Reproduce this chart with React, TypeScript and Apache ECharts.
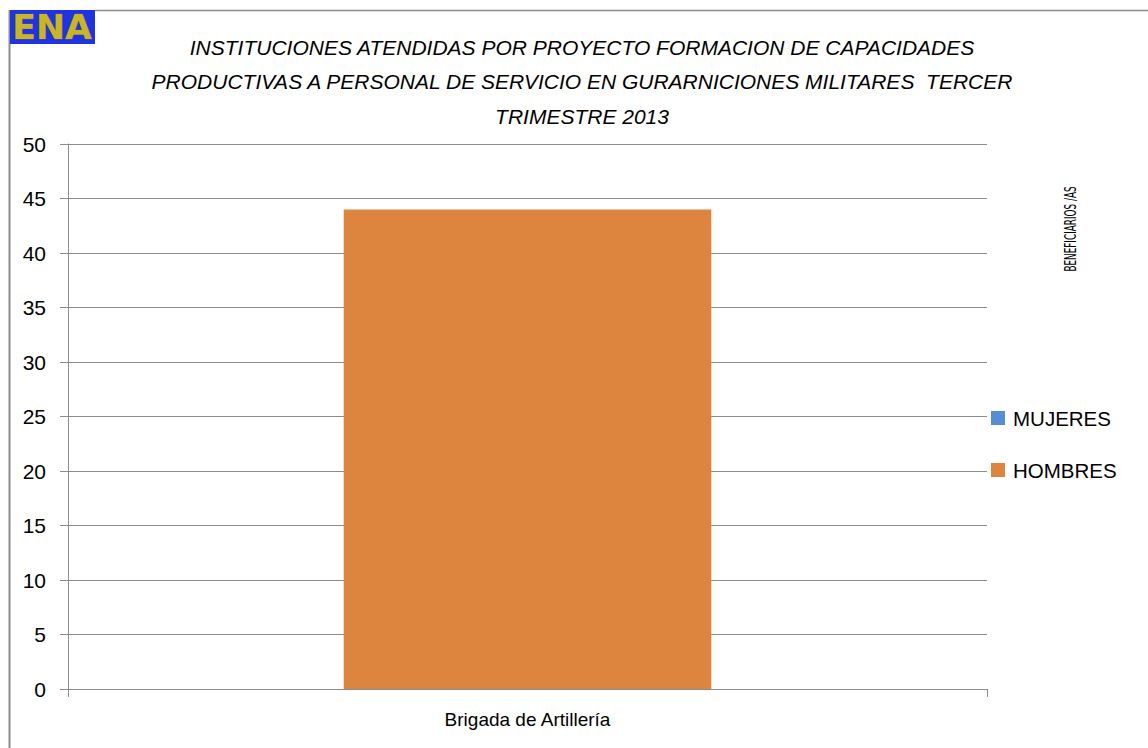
import React, { useEffect, useRef } from "react";
import * as echarts from "echarts";

const categories = ["Brigada de Artillería"];
const seriesNames = ["MUJERES", "HOMBRES"];
const mujeres = [0];
const hombres = [44];
const titleLines = [
  "INSTITUCIONES ATENDIDAS POR PROYECTO FORMACION DE CAPACIDADES",
  "PRODUCTIVAS A PERSONAL DE SERVICIO EN GURARNICIONES MILITARES  TERCER",
  "TRIMESTRE 2013",
];
const sideLabel = "BENEFICIARIOS /AS";

const FONT = "'Liberation Sans', Arial, sans-serif";

export default function App() {
  const ref = useRef<HTMLDivElement>(null);
  useEffect(() => {
    document.body.style.margin = "0";
    const chart = echarts.init(ref.current!, null, { renderer: "svg" });
    const grey = "#8c8c8c";
    chart.setOption({
      animation: false,
      backgroundColor: "#ffffff",
      textStyle: { fontFamily: FONT },
      title: {
        text: titleLines.join("\n"),
        left: 577,
        textAlign: "center",
        top: 25,
        textStyle: {
          fontFamily: FONT,
          fontStyle: "italic",
          fontWeight: "normal",
          fontSize: 21,
          lineHeight: 34.5,
          color: "#000",
        },
      },
      legend: {
        orient: "vertical",
        left: 991,
        top: 407,
        itemWidth: 14,
        itemHeight: 14,
        itemGap: 30,
        padding: 0,
        icon: "rect",
        data: seriesNames,
        textStyle: {
          fontFamily: FONT,
          fontSize: 20.5,
          lineHeight: 22,
          color: "#000",
          padding: [0, 0, 0, 3],
        },
      },
      grid: { left: 68, right: 161, top: 144, bottom: 59 },
      xAxis: {
        type: "category",
        data: categories,
        boundaryGap: true,
        axisLine: { lineStyle: { color: grey, width: 1 } },
        axisTick: { show: true, length: 8, lineStyle: { color: grey } },
        axisLabel: { fontFamily: FONT, fontSize: 19, color: "#000", margin: 21 },
      },
      yAxis: {
        type: "value",
        min: 0,
        max: 50,
        interval: 5,
        axisLine: { show: true, lineStyle: { color: grey, width: 1 } },
        axisTick: { show: true, length: 8, lineStyle: { color: grey } },
        splitLine: { show: true, lineStyle: { color: grey, width: 1 } },
        axisLabel: { fontFamily: FONT, fontSize: 21, color: "#000", margin: 22 },
      },
      series: [
        {
          name: seriesNames[0],
          type: "bar",
          stack: "total",
          data: mujeres,
          barWidth: "40%",
          itemStyle: { color: "#558ed5" },
        },
        {
          name: seriesNames[1],
          type: "bar",
          stack: "total",
          data: hombres,
          barWidth: "40%",
          itemStyle: { color: "#dd843f" },
        },
      ],
      graphic: [
        {
          type: "line",
          shape: { x1: 9.5, y1: 10, x2: 9.5, y2: 748 },
          style: { stroke: grey, lineWidth: 2 },
        },
        {
          type: "line",
          shape: { x1: 95, y1: 10.5, x2: 1148, y2: 10.5 },
          style: { stroke: grey, lineWidth: 1.5 },
        },
        {
          type: "rect",
          shape: { x: 10, y: 10, width: 85, height: 34 },
          style: { fill: "#1f33e0" },
        },
        {
          type: "text",
          x: 52,
          y: 28,
          scaleX: 1.05,
          style: {
            text: "ENA",
            fill: "#c9b52a",
            stroke: "#7d6e1c",
            lineWidth: 0.6,
            font: "bold 33px 'DejaVu Sans', sans-serif",
            textAlign: "center",
            textVerticalAlign: "middle",
          },
        },
        {
          type: "text",
          x: 1071.5,
          y: 229,
          rotation: Math.PI / 2,
          scaleX: 0.59,
          style: {
            text: sideLabel,
            fill: "#000",
            font: "15px 'DejaVu Sans', sans-serif",
            textAlign: "center",
            textVerticalAlign: "middle",
          },
        },
      ],
    });
    return () => chart.dispose();
  }, []);
  return <div ref={ref} style={{ width: 1148, height: 748 }} />;
}
